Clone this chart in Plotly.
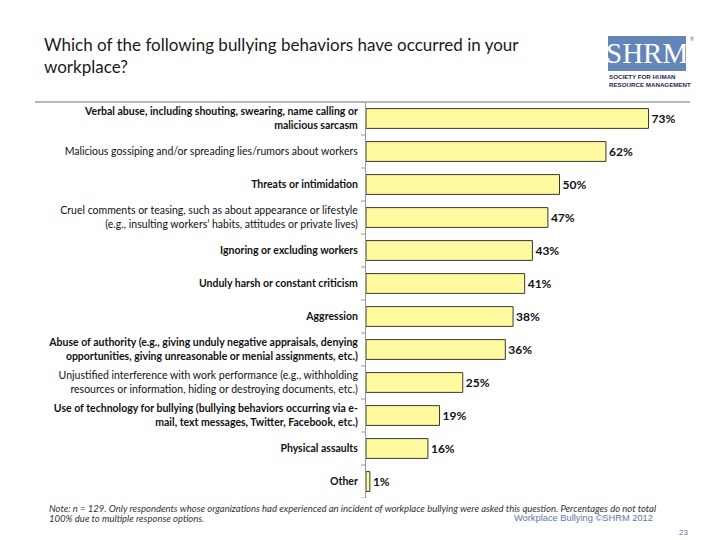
import plotly.graph_objects as go

categories = [
    "<b>Verbal abuse, including shouting, swearing, name calling or</b><br><b>malicious sarcasm</b>",
    "Malicious gossiping and/or spreading lies/rumors about workers",
    "<b>Threats or intimidation</b>",
    "Cruel comments or teasing, such as about appearance or lifestyle<br>(e.g., insulting workers\u2019 habits, attitudes or private lives)",
    "<b>Ignoring or excluding workers</b>",
    "<b>Unduly harsh or constant criticism</b>",
    "<b>Aggression</b>",
    "<b>Abuse of authority (e.g., giving unduly negative appraisals, denying</b><br><b>opportunities, giving unreasonable or menial assignments, etc.)</b>",
    "Unjustified interference with work performance (e.g., withholding<br>resources or information, hiding or destroying documents, etc.)",
    "<b>Use of technology for bullying (bullying behaviors occurring via e-</b><br><b>mail, text messages, Twitter, Facebook, etc.)</b>",
    "<b>Physical assaults</b>",
    "<b>Other</b>",
]
values = [73, 62, 50, 47, 43, 41, 38, 36, 25, 19, 16, 1]
value_labels = [f"{v}%" for v in values]

title_text = "Which of the following bullying behaviors have occurred in your<br>workplace?"
note_line1 = "<i>Note: n = 129. Only respondents whose organizations had experienced an incident of workplace bullying were asked this question. Percentages do not total</i>"
note_line2 = "<i>100% due to multiple response options.</i>"
credit_text = "Workplace Bullying \u00a9SHRM 2012"
page_num = "23"
logo_text = "SHRM"
logo_sub = "SOCIETY FOR HUMAN<br>RESOURCE MANAGEMENT"

FONT = "Lato"
L, R, T, B = 366, 20, 102, 42
W = 720 - L - R
H = 540 - T - B

def px(x):
    return (x - L) / W

def py(y):
    return 1 - (y - T) / H

fig = go.Figure(go.Bar(
    x=values, y=list(range(len(categories))), orientation="h",
    marker=dict(color="#FFF9A0", line=dict(color="#3a3a2a", width=1)),
    width=0.6,
    text=value_labels, textposition="outside",
    textfont=dict(family=FONT, size=12, color="#111111", weight="bold"),
    cliponaxis=False,
))

fig.update_layout(
    width=720, height=540,
    margin=dict(l=L, r=R, t=T, b=B),
    paper_bgcolor="white", plot_bgcolor="white",
    showlegend=False,
    xaxis=dict(range=[0, 86.3], visible=False, showgrid=False, zeroline=False),
    yaxis=dict(
        tickmode="array", tickvals=list(range(len(categories))), ticktext=categories,
        range=[len(categories) - 0.5, -0.5],
        showline=True, linecolor="#9a9a9a", linewidth=1,
        ticks="", showgrid=False, zeroline=False,
        tickfont=dict(family=FONT, size=10.5, color="#111111"),
        ticklabelstandoff=5,
    ),
    font=dict(family=FONT),
)

# boundary tick marks on the category axis
for i in range(len(categories) + 1):
    yb = i - 0.5
    fig.add_shape(type="line", xref="paper", yref="y", x0=px(361), x1=0, y0=yb, y1=yb,
                  line=dict(color="#9a9a9a", width=1))

# top rule
fig.add_shape(type="line", xref="paper", yref="paper", x0=px(35), x1=px(690), y0=py(102), y1=py(102),
              line=dict(color="#a0a0a0", width=1.5))

# title
fig.add_annotation(xref="paper", yref="paper", x=px(42), y=py(32), xanchor="left", yanchor="top",
                   text=title_text, showarrow=False, align="left",
                   font=dict(family=FONT, size=17, color="#1a1a1a"))

# SHRM logo
fig.add_shape(type="rect", xref="paper", yref="paper", x0=px(608), x1=px(686), y0=py(36), y1=py(71),
              fillcolor="#6485b8", line=dict(width=0))
fig.add_annotation(xref="paper", yref="paper", x=px(647), y=py(53), xanchor="center", yanchor="middle",
                   text=logo_text, showarrow=False,
                   font=dict(family="Liberation Serif", size=29, color="white"))
fig.add_annotation(xref="paper", yref="paper", x=px(688), y=py(39), xanchor="left", yanchor="middle",
                   text="\u00ae", showarrow=False,
                   font=dict(family=FONT, size=5, color="#5a6e90"))
fig.add_annotation(xref="paper", yref="paper", x=px(607), y=py(71), xanchor="left", yanchor="top",
                   text=logo_sub, showarrow=False, align="left",
                   font=dict(family="Liberation Sans", size=6.2, color="#1e2a55", weight="bold"))

# footer note
fig.add_annotation(xref="paper", yref="paper", x=px(47), y=py(508), xanchor="left", yanchor="middle",
                   text=note_line1, showarrow=False, align="left",
                   font=dict(family=FONT, size=9.5, color="#333333"))
fig.add_annotation(xref="paper", yref="paper", x=px(47), y=py(518), xanchor="left", yanchor="middle",
                   text=note_line2, showarrow=False, align="left",
                   font=dict(family=FONT, size=9.5, color="#333333"))
fig.add_annotation(xref="paper", yref="paper", x=px(655), y=py(518), xanchor="right", yanchor="middle",
                   text=credit_text, showarrow=False,
                   font=dict(family="Liberation Sans", size=9.3, color="#5b78a8"))
fig.add_annotation(xref="paper", yref="paper", x=px(690), y=py(532), xanchor="right", yanchor="middle",
                   text=page_num, showarrow=False,
                   font=dict(family="Liberation Sans", size=8, color="#5b78a8"))

fig.write_html("out.html", config={"displayModeBar": False},
               post_script="document.body.style.margin='0';")
